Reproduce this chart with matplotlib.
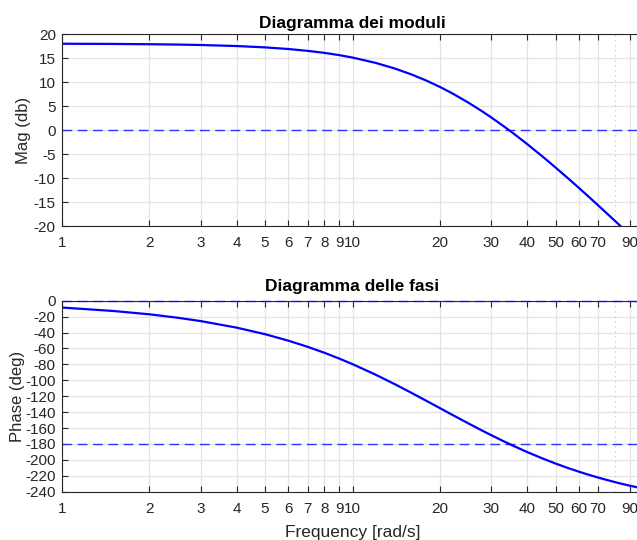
import numpy as np
import matplotlib
matplotlib.use("Agg")
import matplotlib.pyplot as plt

plt.rcParams['font.family'] = ['Liberation Sans', 'DejaVu Sans']
plt.rcParams['axes.unicode_minus'] = False

# =====================================================
# Dati
# =====================================================
freq = [1, 1.5, 2, 2.5, 3, 4, 5, 6, 7, 8, 9, 10, 12, 14, 16, 18, 20, 22, 25,
        28, 30, 33, 36, 40, 45, 50, 55, 60, 65, 70, 75, 80, 85, 90, 100]

mag_db = [17.97, 17.93, 17.87, 17.80, 17.71, 17.49, 17.21, 16.88, 16.49, 16.07,
          15.60, 15.09, 13.99, 12.80, 11.55, 10.27, 8.97, 7.67, 5.74,
          3.86, 2.64, 0.87, -0.82, -2.97, -5.48, -7.81, -9.98, -12.0, -13.89,
          -15.67, -17.34, -18.91, -20.41, -21.8, -24.3]

phase_deg = [-8.6, -12.9, -17.1, -21.4, -25.6, -33.9, -42.1, -50.1, -57.9, -65.4,
             -72.7, -79.7, -92.9, -105.0, -116.0, -126.0, -135.0, -143.2, -154.0,
             -163.4, -168.9, -176.3, -182.8, -190.3, -198.1, -204.6, -210.1, -214.7,
             -218.7, -222.2, -225.2, -227.9, -230.3, -232.4, -236.1]

x_ticks = [1, 2, 3, 4, 5, 6, 7, 8, 9, 10, 20, 30, 40, 50, 60, 70, 90]
x_ticklabels = [str(t) for t in x_ticks]
mag_ticks = list(range(-20, 21, 5))
phase_ticks = list(range(-240, 1, 20))

mag_ref = 0
phase_refs = [0, -180]
marker_freq = 80


def stile_assi(ax, yticks):
    ax.set_xscale("log")
    ax.set_xlim(1, 100)
    ax.set_xticks(x_ticks)
    ax.set_xticklabels(x_ticklabels)
    ax.xaxis.set_minor_locator(matplotlib.ticker.NullLocator())
    ax.set_yticks(yticks)
    ax.set_ylim(min(yticks), max(yticks))
    ax.grid(True, color="#e3e3e3", linewidth=0.9)
    ax.set_axisbelow(True)
    ax.tick_params(direction="in", top=True, right=True, length=4,
                   labelsize=11, colors="#262626", width=0.8)
    ax.tick_params(axis="x", pad=7.2)
    ax.tick_params(axis="y", pad=4.5)
    for s in ax.spines.values():
        s.set_color("#262626")
        s.set_linewidth(0.8)
    ax.axvline(marker_freq, color="#c8c8c8", linestyle=(0, (1, 3)), linewidth=0.9)


fig = plt.figure(figsize=(6.37, 5.40), dpi=100)

# Modulo
ax1 = fig.add_axes([62 / 637, 1 - 226 / 540, 581 / 637, 192 / 540])
stile_assi(ax1, mag_ticks)
ax1.axhline(mag_ref, color="#3333ff", linewidth=1.0, dashes=(7, 4))
ax1.plot(freq, mag_db, color="#0000ff", linewidth=1.6)
ax1.set_title("Diagramma dei moduli", fontsize=12.5, fontweight="bold", pad=4.6)
ax1.set_ylabel("Mag (db)", fontsize=12, color="#262626", labelpad=2)

# Fase
ax2 = fig.add_axes([62 / 637, 1 - 491.7 / 540, 581 / 637, 191 / 540])
stile_assi(ax2, phase_ticks)
for r in phase_refs:
    ax2.axhline(r, color="#3333ff", linewidth=1.0, dashes=(7, 4), clip_on=False)
ax2.plot(freq, phase_deg, color="#0000ff", linewidth=1.6)
ax2.set_title("Diagramma delle fasi", fontsize=12.5, fontweight="bold", pad=6.8)
ax2.set_ylabel("Phase (deg)", fontsize=12, color="#262626", labelpad=0)
ax2.set_xlabel("Frequency [rad/s]", fontsize=12.5, color="#262626", labelpad=7)

plt.savefig("out.png", dpi=100)
plt.close()
